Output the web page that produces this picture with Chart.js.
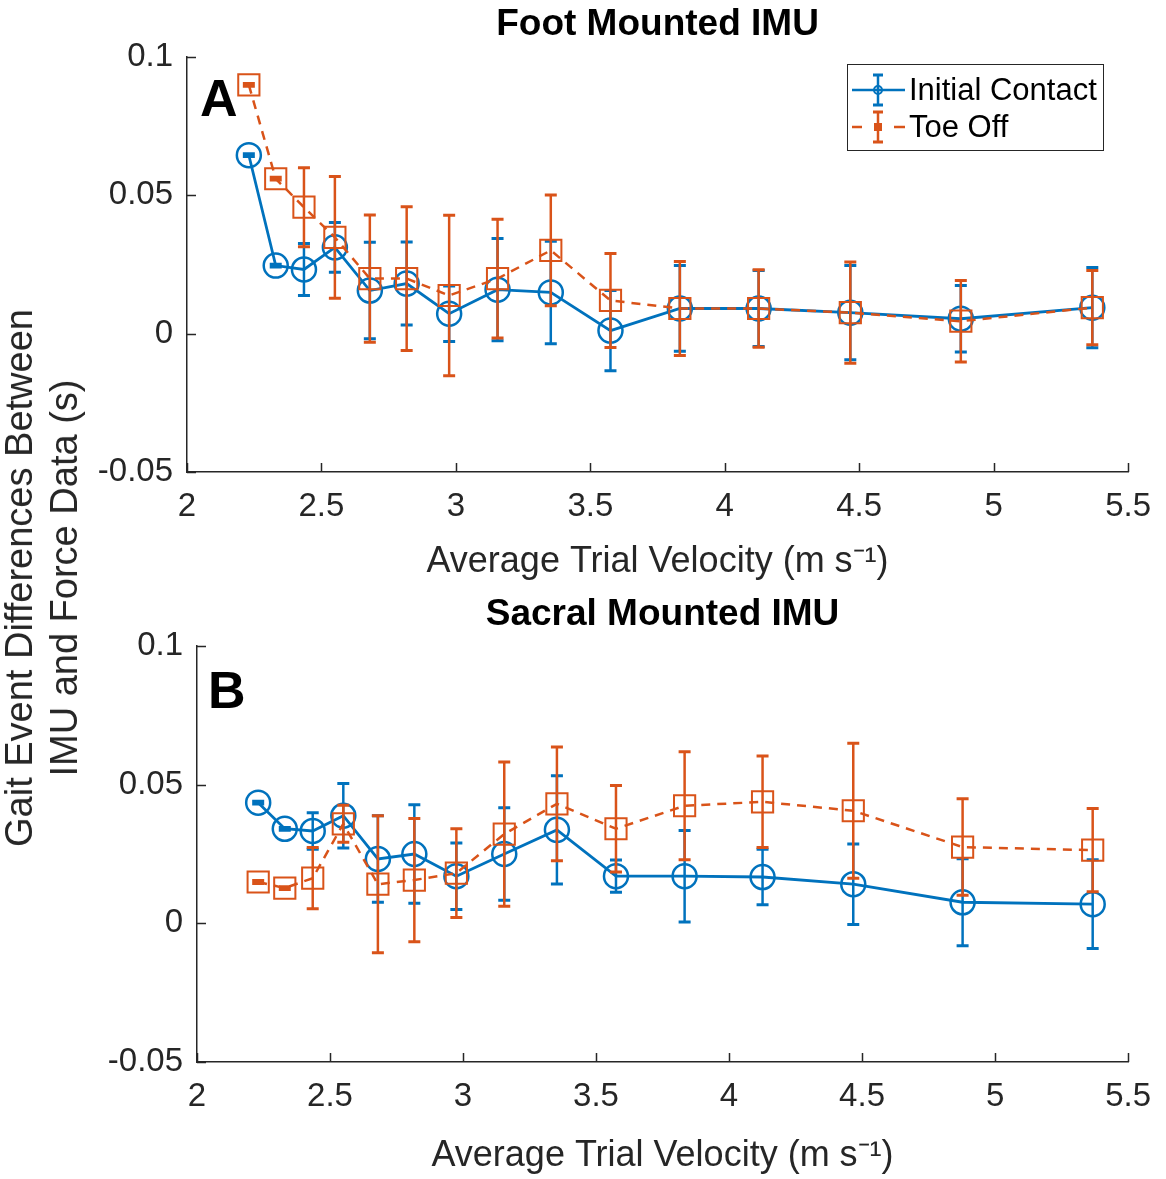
<!DOCTYPE html>
<html>
<head>
<meta charset="utf-8">
<script src="https://cdn.jsdelivr.net/npm/chart.js@4.4.1/dist/chart.umd.min.js"></script>
<style>
html,body{margin:0;padding:0;background:#fff;}
#wrap{position:relative;width:1166px;height:1179px;overflow:hidden;background:#fff;}
#c1{position:absolute;left:0;top:0;}
#c2{position:absolute;left:0;top:590px;}
#ylab{position:absolute;left:42px;top:578px;transform:translate(-50%,-50%) rotate(-90deg);white-space:nowrap;text-align:center;font-family:'Liberation Sans',Arial,sans-serif;font-size:38px;color:#262626;line-height:45px;}
</style>
</head>
<body>
<div id="wrap">
  <canvas id="c1" width="1166" height="590" style="width:1166px;height:590px"></canvas>
  <canvas id="c2" width="1166" height="589" style="width:1166px;height:589px"></canvas>
  <div id="ylab">Gait Event Differences Between<br>IMU and Force Data (s)</div>
</div>
<script>
// ---------------- data ----------------
const velocity = [2.23, 2.33, 2.435, 2.55, 2.68, 2.817, 2.975, 3.155, 3.353, 3.575, 3.833, 4.126, 4.467, 4.878, 5.367];

const footIC     = [0.0645, 0.0246, 0.0232, 0.0312, 0.0156, 0.0181, 0.0072, 0.0159, 0.0149, 0.0011, 0.0091, 0.0091, 0.0076, 0.0054, 0.0094];
const footICErr  = [0.0005, 0.0005, 0.0094, 0.0090, 0.0174, 0.0150, 0.0100, 0.0185, 0.0185, 0.0145, 0.0155, 0.0137, 0.0170, 0.0120, 0.0145];
const footTO     = [0.0899, 0.0560, 0.0457, 0.0348, 0.0199, 0.0199, 0.0138, 0.0199, 0.0301, 0.0120, 0.0091, 0.0091, 0.0076, 0.0045, 0.0094];
const footTOErr  = [0.0005, 0.0005, 0.0143, 0.0220, 0.0230, 0.0260, 0.0290, 0.0215, 0.0200, 0.0170, 0.0170, 0.0140, 0.0183, 0.0147, 0.0134];

const sacralIC    = [0.0435, 0.0341, 0.0333, 0.0388, 0.0232, 0.0250, 0.0170, 0.0250, 0.0337, 0.0170, 0.0170, 0.0167, 0.0141, 0.0076, 0.0069];
const sacralICErr = [0.0005, 0.0005, 0.0066, 0.0116, 0.0156, 0.0178, 0.0120, 0.0167, 0.0195, 0.0058, 0.0165, 0.0100, 0.0145, 0.0157, 0.0160];
const sacralTO    = [0.0149, 0.0127, 0.0163, 0.0359, 0.0141, 0.0156, 0.0181, 0.0322, 0.0431, 0.0341, 0.0424, 0.0438, 0.0406, 0.0275, 0.0264];
const sacralTOErr = [0.0005, 0.0005, 0.0110, 0.0067, 0.0247, 0.0222, 0.0160, 0.0260, 0.0205, 0.0156, 0.0195, 0.0165, 0.0243, 0.0174, 0.0150];

const seriesNames = ['Initial Contact', 'Toe Off'];
const panelTitles = ['Foot Mounted IMU', 'Sacral Mounted IMU'];
const panelLetters = ['A', 'B'];
const xTickValues = [2, 2.5, 3, 3.5, 4, 4.5, 5, 5.5];
const xTickLabels = ['2', '2.5', '3', '3.5', '4', '4.5', '5', '5.5'];
const yTickValues = [-0.05, 0, 0.05, 0.1];
const yTickLabels = ['-0.05', '0', '0.05', '0.1'];
const xAxisTitle = 'Average Trial Velocity (m s\u207B\u00B9)';

// ---------------- style ----------------
const FONT = "'Liberation Sans', Arial, Helvetica, sans-serif";
const BLUE = '#0072BD';
const ORANGE = '#D95319';
const AXIS = '#262626';

const toPts = (xs, ys) => xs.map((x, i) => ({x: x, y: ys[i]}));

// ---------------- plugins ----------------
const errorBars = {
  id: 'errorBars',
  afterDatasetDraw(chart, args) {
    const ds = chart.data.datasets[args.index];
    if (!ds.errors) return;
    const ctx = chart.ctx, xs = chart.scales.x, ys = chart.scales.y;
    ctx.save();
    ctx.strokeStyle = ds.borderColor;
    ctx.setLineDash([]);
    ds.data.forEach((p, i) => {
      const e = ds.errors[i];
      const px = xs.getPixelForValue(p.x);
      const y1 = ys.getPixelForValue(p.y + e);
      const y2 = ys.getPixelForValue(p.y - e);
      ctx.lineWidth = 2.5;
      ctx.beginPath(); ctx.moveTo(px, y1); ctx.lineTo(px, y2); ctx.stroke();
      ctx.lineWidth = 3;
      ctx.beginPath();
      ctx.moveTo(px - 6, y1); ctx.lineTo(px + 6, y1);
      ctx.moveTo(px - 6, y2); ctx.lineTo(px + 6, y2);
      ctx.stroke();
    });
    ctx.restore();
  }
};

const inwardTicks = {
  id: 'inwardTicks',
  afterDraw(chart) {
    const ctx = chart.ctx, a = chart.chartArea, xs = chart.scales.x, ys = chart.scales.y;
    ctx.save();
    ctx.strokeStyle = AXIS; ctx.lineWidth = 1.5;
    ctx.beginPath();
    xs.ticks.forEach(t => { const px = Math.round(xs.getPixelForValue(t.value)) + 0.5; ctx.moveTo(px, a.bottom); ctx.lineTo(px, a.bottom - 9); });
    ys.ticks.forEach(t => { const py = Math.round(ys.getPixelForValue(t.value)) + 0.5; ctx.moveTo(a.left, py); ctx.lineTo(a.left + 9, py); });
    ctx.stroke();
    ctx.restore();
  }
};

const panelLetter = {
  id: 'panelLetter',
  afterDraw(chart, args, opts) {
    if (!opts || !opts.text) return;
    const ctx = chart.ctx;
    ctx.save();
    ctx.font = 'bold 52px ' + FONT;
    ctx.fillStyle = '#000';
    ctx.textBaseline = 'alphabetic';
    ctx.textAlign = 'left';
    ctx.fillText(opts.text, opts.x, opts.y);
    ctx.restore();
  }
};

const legendBox = {
  id: 'legendBox',
  afterDraw(chart, args, opts) {
    if (!opts || !opts.show) return;
    const ctx = chart.ctx;
    const bx = 847.5, by = 64.5, bw = 256, bh = 86;
    ctx.save();
    ctx.fillStyle = '#fff';
    ctx.fillRect(bx, by, bw, bh);
    ctx.strokeStyle = AXIS; ctx.lineWidth = 1;
    ctx.strokeRect(bx, by, bw, bh);
    const rows = [90, 127];
    chart.data.datasets.slice().sort((a, b) => a.legendIndex - b.legendIndex).forEach((ds, k) => {
      const cy = rows[k];
      const cx = 878;
      ctx.strokeStyle = ds.borderColor;
      ctx.lineWidth = 2.5;
      ctx.beginPath();
      if (ds.borderDash && ds.borderDash.length) {
        ctx.moveTo(852, cy); ctx.lineTo(862, cy);
        ctx.moveTo(894, cy); ctx.lineTo(905, cy);
      } else {
        ctx.moveTo(852, cy); ctx.lineTo(905, cy);
      }
      ctx.stroke();
      ctx.beginPath(); ctx.moveTo(cx, cy - 15); ctx.lineTo(cx, cy + 15); ctx.stroke();
      ctx.lineWidth = 3;
      ctx.beginPath();
      ctx.moveTo(cx - 5, cy - 15); ctx.lineTo(cx + 5, cy - 15);
      ctx.moveTo(cx - 5, cy + 15); ctx.lineTo(cx + 5, cy + 15);
      ctx.stroke();
      ctx.lineWidth = 2;
      if (ds.pointStyle === 'circle') {
        ctx.beginPath(); ctx.arc(cx, cy, 4, 0, Math.PI * 2); ctx.stroke();
      } else {
        ctx.fillStyle = ds.borderColor;
        ctx.fillRect(cx - 4, cy - 4, 8, 8);
      }
      ctx.fillStyle = '#000';
      ctx.font = '31px ' + FONT;
      ctx.textBaseline = 'middle';
      ctx.textAlign = 'left';
      ctx.fillText(ds.label, 909, cy + 1);
    });
    ctx.restore();
  }
};

// ---------------- chart factory ----------------
function makeChart(id, ic, icErr, to, toErr, cfg) {
  const datasets = [
    {
      label: seriesNames[0], legendIndex: 0,
      data: toPts(velocity, ic), errors: icErr,
      borderColor: BLUE, backgroundColor: 'rgba(0,0,0,0)',
      borderWidth: 2.8, pointStyle: 'circle', pointRadius: 12, pointBorderWidth: 2.5,
      pointBackgroundColor: 'rgba(0,0,0,0)', pointBorderColor: BLUE,
      tension: 0, order: 1
    },
    {
      label: seriesNames[1], legendIndex: 1,
      data: toPts(velocity, to), errors: toErr,
      borderColor: ORANGE, backgroundColor: 'rgba(0,0,0,0)',
      borderWidth: 2.5, borderDash: [9, 7], pointStyle: 'rect', pointRadius: 15, pointBorderWidth: 2,
      pointBackgroundColor: 'rgba(0,0,0,0)', pointBorderColor: ORANGE,
      tension: 0, order: 0
    }
  ];
  return new Chart(document.getElementById(id), {
    type: 'line',
    data: { datasets: datasets },
    plugins: [errorBars, inwardTicks, panelLetter, legendBox],
    options: {
      responsive: false,
      animation: false,
      events: [],
      layout: { padding: { left: 0, right: cfg.right, top: 0, bottom: 0 } },
      plugins: {
        legend: { display: false },
        tooltip: { enabled: false },
        title: {
          display: true, text: cfg.title, fullSize: false, color: '#000',
          font: { family: FONT, size: 37, weight: 'bold', lineHeight: 1.2 },
          padding: { top: 3, bottom: cfg.titleBottom }
        },
        panelLetter: { text: cfg.letter, x: cfg.letterX, y: cfg.letterY },
        legendBox: { show: cfg.legend }
      },
      scales: {
        x: {
          type: 'linear', min: 2, max: 5.5,
          afterBuildTicks: s => { s.ticks = xTickValues.map(v => ({ value: v })); },
          afterFit: s => { s.height = cfg.xHeight; },
          ticks: {
            padding: 15, color: AXIS, maxRotation: 0, autoSkip: false,
            font: { family: FONT, size: 33 },
            callback: v => xTickLabels[xTickValues.indexOf(v)]
          },
          grid: { display: false, drawTicks: false },
          border: { display: true, color: AXIS, width: 1.5 },
          title: {
            display: true, text: xAxisTitle, color: AXIS,
            font: { family: FONT, size: 36, lineHeight: 1.2 },
            padding: { top: 0, bottom: cfg.xTitleBottom }
          }
        },
        y: {
          type: 'linear', min: -0.05, max: 0.1,
          afterBuildTicks: s => { s.ticks = yTickValues.map(v => ({ value: v })); },
          afterFit: s => { s.width = cfg.yWidth; },
          ticks: {
            padding: 14, color: AXIS,
            font: { family: FONT, size: 33 },
            callback: v => yTickLabels[yTickValues.indexOf(v)]
          },
          grid: { display: false, drawTicks: false },
          border: { display: true, color: AXIS, width: 1.5 }
        }
      }
    }
  });
}

makeChart('c1', footIC, footICErr, footTO, footTOErr, {
  title: panelTitles[0], letter: panelLetters[0], letterX: 200, letterY: 116,
  legend: true, right: 34, yWidth: 187, xHeight: 118, titleBottom: 9.6, xTitleBottom: 6
});
makeChart('c2', sacralIC, sacralICErr, sacralTO, sacralTOErr, {
  title: panelTitles[1], letter: panelLetters[1], letterX: 208, letterY: 118,
  legend: false, right: 33, yWidth: 197, xHeight: 117, titleBottom: 8.6, xTitleBottom: 1
});
</script>
</body>
</html>
